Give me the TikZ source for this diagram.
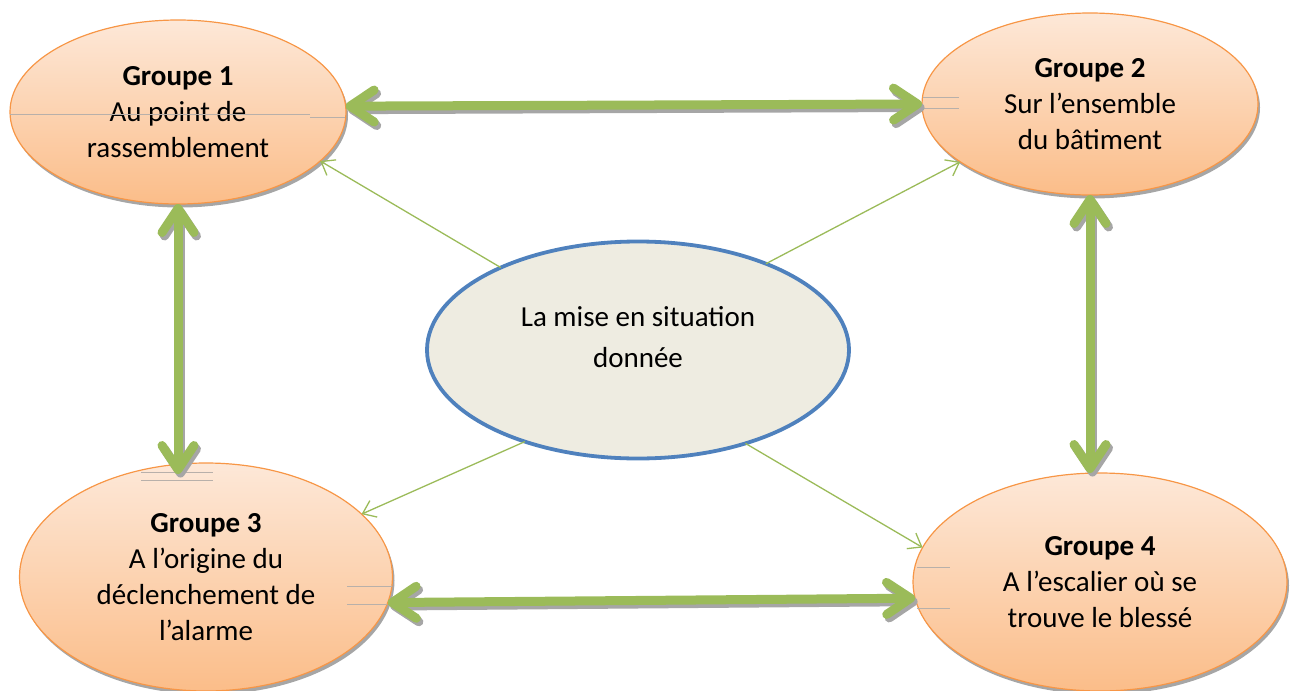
\documentclass[tikz,border=0pt]{standalone}
\usepackage{fontspec}
\setmainfont{Carlito}
\usetikzlibrary{arrows.meta,shapes.geometric,shadows}
\definecolor{grn}{HTML}{9BBB59}
\definecolor{orb}{HTML}{F79646}
\definecolor{ortop}{HTML}{FDE8D8}
\definecolor{orbot}{HTML}{FBBD89}
\definecolor{cfill}{HTML}{EEECE1}
\definecolor{cblue}{HTML}{4F81BD}
\definecolor{shd}{HTML}{A6A6A6}
\definecolor{strayc}{HTML}{B8B0AA}
\begin{document}
\begin{tikzpicture}[x=1pt,y=-1pt,
  grp/.style={ellipse, draw=orb, line width=1.2pt, top color=ortop, bottom color=orbot,
    inner sep=0pt, outer sep=0pt, align=center, font=\fontsize{29}{36}\selectfont,
    drop shadow={shadow xshift=2pt, shadow yshift=-3.5pt, fill=shd, opacity=1}},
  ctr/.style={ellipse, draw=cblue, line width=3.8pt, fill=cfill, inner sep=0pt, outer sep=0pt,
    align=center, font=\fontsize{29}{36}\selectfont},
  bigarr/.style={line width=9pt, draw=grn,
    {Straight Barb[length=24pt,width=32pt,round]}-{Straight Barb[length=24pt,width=32pt,round]}},
  bigshd/.style={bigarr, draw=shd, transform canvas={shift={(2.5pt,-3.5pt)}}},
  thinarr/.style={draw=grn, line width=1.3pt, -{Straight Barb[length=12pt,width=18pt]}},
  stray/.style={draw=strayc, line width=0.8pt}
]
\useasboundingbox (0,0) rectangle (1291,691);

\node[grp, minimum width=336pt, minimum height=184pt] (g1) at (178,112)
  {\textbf{Groupe 1}\\Au point de\\rassemblement};
\node[grp, minimum width=336pt, minimum height=182pt] (g2) at (1090,104)
  {\textbf{Groupe 2}\\Sur l’ensemble\\du bâtiment};
\node[grp, minimum width=373pt, minimum height=228pt] (g3) at (206,577)
  {\textbf{Groupe 3}\\A l’origine du\\déclenchement de\\l’alarme};
\node[grp, minimum width=374pt, minimum height=218pt] (g4) at (1100,582)
  {\textbf{Groupe 4}\\A l’escalier où se\\trouve le blessé};
\node[ctr, minimum width=422pt, minimum height=217pt] (c) at (638,350)
  {La mise en situation\\[5pt]donnée\\[-21pt]\strut};

% stray lines
\draw[stray] (10,114) -- (310,114);
\draw[stray] (310,117) -- (345,117);
\draw[stray] (923,97) -- (959,97);
\draw[stray] (923,108) -- (959,108);
\draw[stray] (141,472) -- (213,472);
\draw[stray] (141,480) -- (213,480);
\draw[stray] (347,586) -- (392,586);
\draw[stray] (347,604) -- (387,604);
\draw[stray] (917,567) -- (950,567);
\draw[stray] (917,608) -- (950,608);

% thin arrows
\draw[thinarr] (c.149) -- (g1.-19);
\draw[thinarr] (c.34) -- (g2.204);
\draw[thinarr] (c.219) -- (g3.22);
\draw[thinarr] (c.-41) -- (g4.169);

% thick double arrows
\draw[bigshd] (g1.2) -- (g2.180);
\draw[bigarr] (g1.2) -- (g2.180);
\draw[bigshd] (g1.south) -- ([yshift=-11pt]g3.north -| g1.south);
\draw[bigarr] (g1.south) -- ([yshift=-11pt]g3.north -| g1.south);
\draw[bigshd] (g2.south) -- (g4.north -| g2.south);
\draw[bigarr] (g2.south) -- (g4.north -| g2.south);
\draw[bigshd] (g3.-8) -- (g4.185);
\draw[bigarr] (g3.-8) -- (g4.185);
\end{tikzpicture}
\end{document}
